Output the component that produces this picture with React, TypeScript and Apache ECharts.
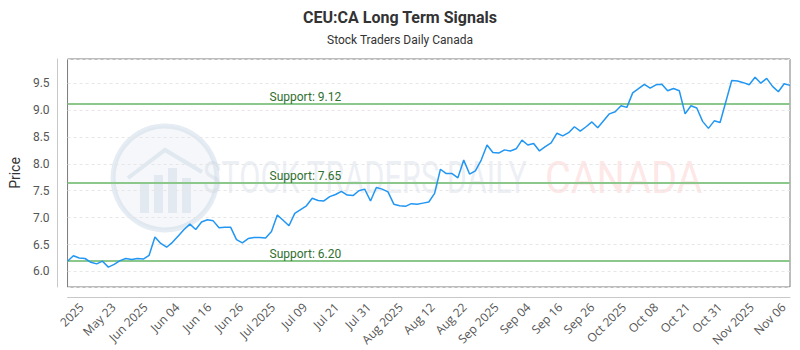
import React, { useEffect, useRef } from "react";
import * as echarts from "echarts";

// Trading days (day-of-month) per month, 2025
const mayDays = [12, 13, 14, 15, 16, 20, 21, 22, 23, 26, 27, 28, 29, 30];
const junDays = [2, 3, 4, 5, 6, 9, 10, 11, 12, 13, 16, 17, 18, 19, 20, 23, 24, 25, 26, 27, 30];
const julDays = [2, 3, 4, 7, 8, 9, 10, 11, 14, 15, 16, 17, 18, 21, 22, 23, 24, 25, 28, 29, 30, 31];
const augDays = [1, 5, 6, 7, 8, 11, 12, 13, 14, 15, 18, 19, 20, 21, 22, 25, 26, 27, 28, 29];
const sepDays = [2, 3, 4, 5, 8, 9, 10, 11, 12, 15, 16, 17, 18, 19, 22, 23, 24, 25, 26, 29, 30];
const octDays = [1, 2, 3, 6, 7, 8, 9, 10, 14, 15, 16, 17, 20, 21, 22, 23, 24, 27, 28, 29, 30, 31];
const novDays = [3, 4, 5, 6, 7];

const prices = [
  6.19, 6.29, 6.25, 6.24, 6.17, 6.14, 6.19, 6.08, 6.13, 6.2,
  6.24, 6.22, 6.24, 6.23, 6.3, 6.64, 6.52, 6.45, 6.54, 6.66,
  6.78, 6.88, 6.78, 6.92, 6.96, 6.94, 6.81, 6.82, 6.82, 6.59,
  6.53, 6.61, 6.63, 6.63, 6.62, 6.74, 7.05, 6.95, 6.85, 7.08,
  7.15, 7.22, 7.36, 7.32, 7.31, 7.39, 7.43, 7.49, 7.42, 7.41,
  7.5, 7.53, 7.31, 7.56, 7.53, 7.48, 7.25, 7.22, 7.21, 7.26,
  7.25, 7.27, 7.29, 7.45, 7.9, 7.82, 7.82, 7.74, 8.07, 7.81,
  7.87, 8.07, 8.35, 8.21, 8.2, 8.26, 8.24, 8.28, 8.44, 8.35,
  8.38, 8.24, 8.32, 8.39, 8.57, 8.52, 8.58, 8.69, 8.61, 8.69,
  8.78, 8.67, 8.8, 8.93, 8.97, 9.08, 9.05, 9.32, 9.4, 9.48,
  9.41, 9.47, 9.48, 9.36, 9.4, 9.36, 8.93, 9.08, 9.04, 8.79,
  8.66, 8.8, 8.77, 9.16, 9.55, 9.54, 9.51, 9.47, 9.61, 9.5,
  9.59, 9.44, 9.34, 9.49, 9.46,
];

const supportLevels = [9.12, 7.65, 6.2];

const tickLabels = [
  "2025", "May 23", "Jun 2025", "Jun 04", "Jun 16", "Jun 26", "Jul 2025", "Jul 09",
  "Jul 21", "Jul 31", "Aug 2025", "Aug 12", "Aug 22", "Sep 2025", "Sep 04", "Sep 16",
  "Sep 26", "Oct 2025", "Oct 08", "Oct 21", "Oct 31", "Nov 2025", "Nov 06",
];

const pad = (n: number) => (n < 10 ? "0" + n : "" + n);
const monthDays: [number, number[]][] = [
  [5, mayDays], [6, junDays], [7, julDays], [8, augDays], [9, sepDays], [10, octDays], [11, novDays],
];
const dates: string[] = [];
monthDays.forEach(([m, days]) => days.forEach((d) => dates.push(`2025-${pad(m)}-${pad(d)}`)));

const FONT = "Roboto";

export default function App() {
  const ref = useRef<HTMLDivElement>(null);
  useEffect(() => {
    if (!ref.current) return;
    const chart = echarts.init(ref.current, null, { renderer: "svg" });
    const option: any = {
      animation: false,
      backgroundColor: "#fff",
      title: {
        text: "CEU:CA Long Term Signals",
        subtext: "Stock Traders Daily Canada",
        left: "center",
        top: 4,
        itemGap: 9,
        textStyle: { fontFamily: FONT, fontSize: 16, fontWeight: "bold", color: "#333" },
        subtextStyle: { fontFamily: FONT, fontSize: 12, color: "#333" },
      },
      graphic: [
        {
          type: "group",
          silent: true,
          z: 0,
          children: [
            {
              type: "circle",
              shape: { cx: 165, cy: 178, r: 52 },
              style: { fill: "rgba(225,232,242,0.35)", stroke: "rgba(200,212,228,0.45)", lineWidth: 5 },
            },
            { type: "rect", shape: { x: 140, y: 183, width: 9, height: 30 }, style: { fill: "rgba(200,212,228,0.4)" } },
            { type: "rect", shape: { x: 154, y: 175, width: 9, height: 38 }, style: { fill: "rgba(200,212,228,0.4)" } },
            { type: "rect", shape: { x: 168, y: 168, width: 9, height: 45 }, style: { fill: "rgba(200,212,228,0.4)" } },
            { type: "rect", shape: { x: 182, y: 178, width: 9, height: 35 }, style: { fill: "rgba(200,212,228,0.4)" } },
            {
              type: "polyline",
              shape: { points: [[128, 178], [165, 150], [202, 172]] },
              style: { stroke: "rgba(200,212,228,0.45)", lineWidth: 4, fill: "none" },
            },
            {
              type: "text",
              x: 203,
              y: 178,
              scaleX: 0.7,
              style: {
                text: "STOCK TRADERS DAILY",
                fontFamily: FONT,
                fontSize: 44,
                fill: "rgba(200,210,225,0.35)",
                verticalAlign: "middle",
                align: "left",
              },
            },
            {
              type: "text",
              x: 545,
              y: 178,
              scaleX: 0.9,
              style: {
                text: "CANADA",
                fontFamily: FONT,
                fontSize: 44,
                fill: "rgba(250,170,170,0.3)",
                verticalAlign: "middle",
                align: "left",
              },
            },
          ],
        },
      ],
      grid: [
        { left: 63, right: 10, top: 59, bottom: 63, show: true, borderColor: "#7a7a7a", borderWidth: 1, backgroundColor: "transparent" },
        { left: 81.5, right: 16.5, top: 59, bottom: 63, show: false },
      ],
      xAxis: [
        {
          gridIndex: 0,
          type: "category",
          data: dates,
          boundaryGap: false,
          offset: 10,
          axisLine: { show: true, lineStyle: { color: "#c8c8c8", width: 1 } },
          axisTick: { show: false },
          axisLabel: { show: false },
          splitLine: { show: false },
        },
        {
          gridIndex: 1,
          type: "category",
          data: tickLabels,
          boundaryGap: false,
          offset: 10,
          axisLine: { show: false },
          axisTick: { show: false },
          splitLine: { show: false },
          axisLabel: {
            interval: 0,
            rotate: 45,
            fontFamily: "Open Sans",
            fontSize: 12,
            color: "#555",
            margin: 8,
          },
        },
      ],
      yAxis: [
        {
          gridIndex: 0,
          type: "value",
          min: 5.71,
          max: 9.95,
          splitNumber: 8,
          offset: 10,
          name: "Price",
          nameLocation: "middle",
          nameGap: 30,
          nameTextStyle: { fontFamily: FONT, fontSize: 14, color: "#333" },
          axisLine: { show: true, lineStyle: { color: "#c8c8c8", width: 1 } },
          axisTick: { show: false },
          axisLabel: {
            fontFamily: FONT,
            fontSize: 12,
            color: "#555",
            margin: 8,
            formatter: (v: number) => (Math.abs(v * 2 - Math.round(v * 2)) < 1e-6 ? v.toFixed(1) : ""),
          },
          splitLine: { show: true, lineStyle: { color: "#e6e6e6", type: [3, 3], width: 1 } },
        },
        { gridIndex: 1, type: "value", show: false },
      ],
      series: [
        {
          type: "line",
          xAxisIndex: 0,
          yAxisIndex: 0,
          data: prices,
          showSymbol: false,
          symbol: "none",
          z: 3,
          lineStyle: { color: "#2196f3", width: 1.5 },
          markLine: {
            silent: true,
            symbol: ["none", "none"],
            z: 2,
            lineStyle: { color: "#8cc88c", width: 2, type: "solid" },
            label: {
              position: "insideStartTop",
              distance: [202, 1],
              formatter: "{b}",
              fontFamily: FONT,
              fontSize: 12,
              color: "#2f6f2f",
            },
            emphasis: { disabled: true },
            data: supportLevels.map((v) => ({ yAxis: v, name: "Support: " + v.toFixed(2) })),
          },
        },
      ],
    };
    chart.setOption(option);
    return () => chart.dispose();
  }, []);
  return <div ref={ref} style={{ position: "absolute", left: 0, top: 0, width: 800, height: 350 }} />;
}
